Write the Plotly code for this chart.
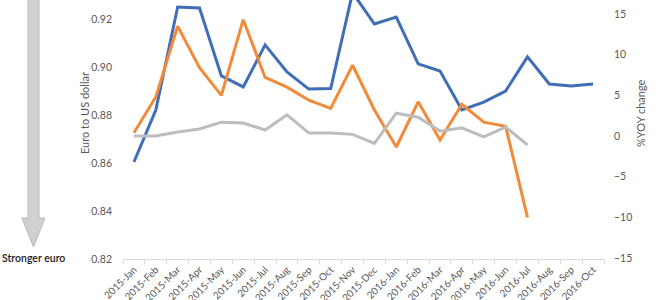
import plotly.graph_objects as go

months = ["2015-Jan", "2015-Feb", "2015-Mar", "2015-Apr", "2015-May", "2015-Jun",
          "2015-Jul", "2015-Aug", "2015-Sep", "2015-Oct", "2015-Nov", "2015-Dec",
          "2016-Jan", "2016-Feb", "2016-Mar", "2016-Apr", "2016-May", "2016-Jun",
          "2016-Jul", "2016-Aug", "2016-Sep", "2016-Oct"]

euro_usd = [0.8604, 0.8821, 0.9250, 0.9246, 0.8963, 0.8917, 0.9092, 0.8979,
            0.8908, 0.8910, 0.9310, 0.9179, 0.9208, 0.9013, 0.8983, 0.8821,
            0.8854, 0.8900, 0.9042, 0.8929, 0.8921, 0.8929]

yoy_orange = [0.4, 4.8, 13.5, 8.4, 5.0, 14.3, 7.2, 6.0, 4.4, 3.4, 8.7, 3.2,
              -1.35, 4.2, -0.5, 3.9, 1.7, 1.2, -10.0]

yoy_gray = [0.0, 0.0, 0.5, 0.86, 1.7, 1.6, 0.74, 2.6, 0.37, 0.37, 0.2, -0.9,
            2.8, 2.3, 0.6, 1.0, -0.1, 1.1, -1.1]

left_ticks = [0.82, 0.84, 0.86, 0.88, 0.90, 0.92]
right_ticks = [-15, -10, -5, 0, 5, 10, 15]

W, H = 670, 300
ML, MR, MT, MB = 123, 66, 0, 41
PW, PH = W - ML - MR, H - MT - MB


def px(x):
    return (x - ML) / PW


def py(y):
    return (H - MB - y) / PH


FONT = "Lato, 'Open Sans', sans-serif"
TICK_COLOR = "#595959"

fig = go.Figure()
fig.add_trace(go.Scatter(x=months, y=euro_usd, mode="lines", name="Euro to US dollar",
                         line=dict(color="#3F6EB6", width=3), yaxis="y"))
fig.add_trace(go.Scatter(x=months[:len(yoy_orange)], y=yoy_orange, mode="lines",
                         name="Orange %YOY", line=dict(color="#F28A3A", width=3), yaxis="y2"))
fig.add_trace(go.Scatter(x=months[:len(yoy_gray)], y=yoy_gray, mode="lines",
                         name="Gray %YOY", line=dict(color="#BDBDBD", width=3), yaxis="y2"))

# Arrow (pixel geometry converted to paper coords)
arrow_pts = [(28, -6), (39, -6), (39, 218), (45, 218), (33.5, 247), (22, 218), (28, 218)]
path = "M " + " L ".join(f"{px(x)},{py(y)}" for x, y in arrow_pts) + " Z"
fig.add_shape(type="path", path=path, xref="paper", yref="paper",
              fillcolor="#D0D0D0", line=dict(color="#B8B8B8", width=1), layer="above")

fig.add_annotation(text="Stronger euro", xref="paper", yref="paper",
                   x=px(33), y=py(258), showarrow=False, xanchor="center", yanchor="middle",
                   font=dict(family=FONT, size=10.5, color="#1A1A1A", weight=600))
fig.add_annotation(text="Euro to US dollar", xref="paper", yref="paper",
                   x=px(84), y=py(113), showarrow=False, textangle=-90,
                   xanchor="center", yanchor="middle",
                   font=dict(family=FONT, size=11, color=TICK_COLOR))
fig.add_annotation(text="%YOY change", xref="paper", yref="paper",
                   x=px(640), y=py(113), showarrow=False, textangle=-90,
                   xanchor="center", yanchor="middle",
                   font=dict(family=FONT, size=11, color=TICK_COLOR))

fig.update_layout(
    width=W, height=H,
    margin=dict(l=ML, r=MR, t=MT, b=MB, pad=0),
    paper_bgcolor="white", plot_bgcolor="white",
    showlegend=False,
    font=dict(family=FONT, size=10, color=TICK_COLOR),
    xaxis=dict(type="category", categoryorder="array", categoryarray=months,
               range=[-0.5, len(months) - 0.5], tickangle=-45,
               showgrid=False, zeroline=False, showline=True, linecolor="#D9D9D9",
               linewidth=1, ticks="outside", tickson="boundaries", ticklen=4,
               tickcolor="#D9D9D9", tickfont=dict(size=10, color=TICK_COLOR),
               automargin=False),
    yaxis=dict(range=[0.82, 0.82 + 259 * 0.02 / 48], tickvals=left_ticks,
               ticktext=[f"{v:.2f}" for v in left_ticks],
               showgrid=False, zeroline=False, showline=False, ticks="",
               ticklabelstandoff=10, tickfont=dict(size=10.5, color=TICK_COLOR),
               automargin=False),
    yaxis2=dict(overlaying="y", side="right",
                range=[-15 - 1 / 8.133, 15 + 14 / 8.133], tickvals=right_ticks,
                showgrid=False, zeroline=False, showline=False, ticks="",
                ticklabelstandoff=9, tickfont=dict(size=10.5, color=TICK_COLOR),
                automargin=False),
)

fig.write_html("out.html")
